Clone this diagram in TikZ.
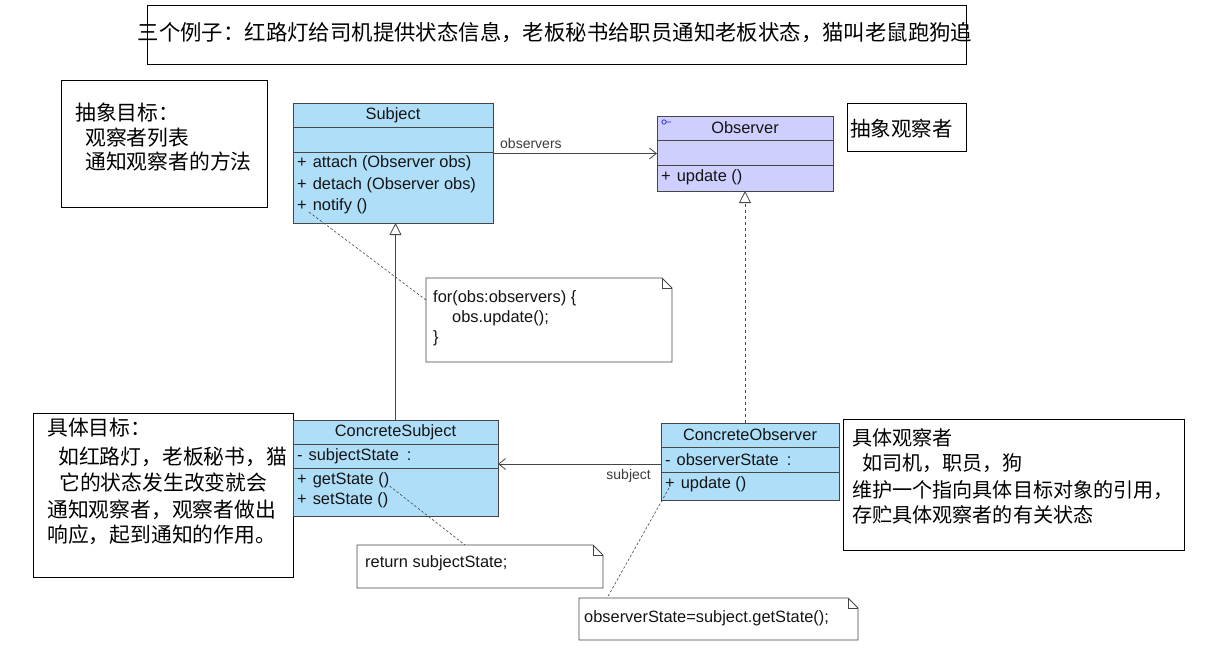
\documentclass[tikz,border=0pt]{standalone}
\usepackage{fontspec}
\setmainfont{Liberation Sans}
\newfontfamily\cjk{Noto Sans CJK SC}
\usetikzlibrary{arrows.meta,calc}
\definecolor{clsblue}{RGB}{174,222,248}
\definecolor{clspurple}{RGB}{206,206,255}
\definecolor{umlline}{RGB}{70,70,70}
\definecolor{umltext}{RGB}{20,20,20}
\definecolor{umllabel}{RGB}{60,60,60}
\definecolor{symblue}{RGB}{40,40,220}
\begin{document}
\begin{tikzpicture}[x=1pt,y=-1pt,
  textbox/.style={draw=black, line width=1pt, inner sep=0, outer sep=0},
  cls/.style={draw=umlline, line width=0.8pt, inner sep=0, outer sep=0},
  sep/.style={draw=umlline, line width=0.8pt},
  txt/.style={font=\fontsize{16.4}{19}\selectfont, text=umltext, inner sep=0, anchor=west},
  clstitle/.style={font=\fontsize{16.4}{19}\selectfont, text=umltext, inner sep=0},
  lbl/.style={font=\fontsize{14}{17}\selectfont, text=umllabel, inner sep=0},
  cn/.style={text=black, inner sep=0, anchor=west},
  cnA/.style={cn, font=\cjk\fontsize{20.8}{25}\selectfont},
  cnB/.style={cn, font=\cjk\fontsize{20.1}{25}\selectfont},
  noteshape/.style={inner sep=0, outer sep=0},
  noteline/.style={draw=umlline, line width=0.8pt, fill=white},
  notelink/.style={draw=umlline, line width=0.6pt, dash pattern=on 2.5pt off 2pt},
  gen/.style={draw=umlline, line width=0.8pt, -{Triangle[open, length=12pt, width=12pt, fill=white]}},
  real/.style={draw=umlline, line width=0.8pt, dash pattern=on 3pt off 3pt, -{Triangle[open, length=12pt, width=12pt, fill=white]}},
  assoc/.style={draw=umlline, line width=0.8pt, -{Straight Barb[length=7pt, width=11pt]}}
]
\fill[white] (0,0) rectangle (1206,669);
\useasboundingbox (0,0) rectangle (1206,669);

% ---------- top banner ----------
\node[textbox, minimum width=819pt, minimum height=58pt] (top) at (556.5,35) {};
\node[inner sep=0, font=\cjk\fontsize{21.4}{25}\selectfont] (toptext) at (555,33)
  {三个例子：红路灯给司机提供状态信息，老板秘书给职员通知老板状态，猫叫老鼠跑狗追};

% ---------- abstract target text box ----------
\node[textbox, minimum width=206pt, minimum height=127pt] (abs) at (164,143.5) {};
\node[cnA] (abs1) at (75,113) {抽象目标：};
\node[cnA] (abs2) at (85,138) {观察者列表};
\node[cnA] (abs3) at (85,162) {通知观察者的方法};

% ---------- abstract observer text box ----------
\node[textbox, minimum width=119pt, minimum height=48pt] (absobs) at (906.5,127) {};
\node[cn, font=\cjk\fontsize{20.5}{25}\selectfont] (absobs1) at (850,129) {抽象观察者};

% ---------- concrete subject text box ----------
\node[textbox, minimum width=260pt, minimum height=164pt] (cst) at (163,495) {};
\node[cnA] (cst1) at (47,428) {具体目标：};
\node[cnA] (cst2) at (58,457) {如红路灯，老板秘书，猫};
\node[cnA] (cst3) at (59,483) {它的状态发生改变就会};
\node[cnA] (cst4) at (47,510) {通知观察者，观察者做出};
\node[cnA] (cst5) at (47,535) {响应，起到通知的作用。};

% ---------- concrete observer text box ----------
\node[textbox, minimum width=341pt, minimum height=131pt] (cot) at (1013.5,484.5) {};
\node[cnB] (cot1) at (852,438) {具体观察者};
\node[cnB] (cot2) at (862,463) {如司机，职员，狗};
\node[cnB] (cot3) at (852,490) {维护一个指向具体目标对象的引用，};
\node[cnB] (cot4) at (852,515) {存贮具体观察者的有关状态};

% ---------- notes ----------
\node[noteshape, minimum width=246pt, minimum height=84pt] (n1) at (549,320) {};
\draw[noteline] (n1.north west) -- ($(n1.north east)+(-10,0)$) -- ($(n1.north east)+(0,10)$) -- (n1.south east) -- (n1.south west) -- cycle;
\draw[sep] ($(n1.north east)+(-10,0)$) -- ($(n1.north east)+(-10,10)$) -- ($(n1.north east)+(0,10)$);
\node[txt] (n1a) at (433,298) {for(obs:observers) \{};
\node[txt] (n1b) at (452,318) {obs.update();};
\node[txt] (n1c) at (433,338) {\}};

\node[noteshape, minimum width=246pt, minimum height=43pt] (n2) at (480,566.5) {};
\draw[noteline] (n2.north west) -- ($(n2.north east)+(-10,0)$) -- ($(n2.north east)+(0,10)$) -- (n2.south east) -- (n2.south west) -- cycle;
\draw[sep] ($(n2.north east)+(-10,0)$) -- ($(n2.north east)+(-10,10)$) -- ($(n2.north east)+(0,10)$);
\node[txt] (n2a) at (365,563) {return subjectState;};

\node[noteshape, minimum width=279pt, minimum height=42pt] (n3) at (718.5,619) {};
\draw[noteline] (n3.north west) -- ($(n3.north east)+(-10,0)$) -- ($(n3.north east)+(0,10)$) -- (n3.south east) -- (n3.south west) -- cycle;
\draw[sep] ($(n3.north east)+(-10,0)$) -- ($(n3.north east)+(-10,10)$) -- ($(n3.north east)+(0,10)$);
\node[txt] (n3a) at (584,618) {observerState=subject.getState();};

% ---------- Subject ----------
\node[cls, fill=clsblue, minimum width=200pt, minimum height=120pt] (s) at (393,163) {};
\draw[sep] ($(s.north west)+(0,24)$) -- ($(s.north east)+(0,24)$);
\draw[sep] ($(s.north west)+(0,49)$) -- ($(s.north east)+(0,49)$);
\node[clstitle] (st) at (393,115) {Subject};
\node[txt] (sm1) at (297,163) {+\hspace{6pt}attach (Observer obs)};
\node[txt] (sm2) at (297,185) {+\hspace{6pt}detach (Observer obs)};
\node[txt] (sm3) at (297,206) {+\hspace{6pt}notify ()};

% ---------- Observer ----------
\node[cls, fill=clspurple, minimum width=176pt, minimum height=75pt] (o) at (745,153.5) {};
\draw[sep] ($(o.north west)+(0,24)$) -- ($(o.north east)+(0,24)$);
\draw[sep] ($(o.north west)+(0,49)$) -- ($(o.north east)+(0,49)$);
\node[clstitle] (ot) at (745,128) {Observer};
\node[txt] (om1) at (661,177) {+\hspace{6pt}update ()};
\draw[symblue, line width=0.7pt] (664,122) circle (2.2) (666.2,122) -- (671,122);

% ---------- ConcreteSubject ----------
\node[cls, fill=clsblue, minimum width=205pt, minimum height=96pt] (cs) at (395.5,468) {};
\draw[sep] ($(cs.north west)+(0,24)$) -- ($(cs.north east)+(0,24)$);
\draw[sep] ($(cs.north west)+(0,48)$) -- ($(cs.north east)+(0,48)$);
\node[clstitle] (cst0) at (395.5,432) {ConcreteSubject};
\node[txt] (csa1) at (297,456) {-\hspace{6pt}subjectState\hspace{8pt}:};
\node[txt] (csm1) at (297,480) {+\hspace{6pt}getState ()};
\node[txt] (csm2) at (297,500) {+\hspace{6pt}setState ()};

% ---------- ConcreteObserver ----------
\node[cls, fill=clsblue, minimum width=178pt, minimum height=77pt] (co) at (750,461.5) {};
\draw[sep] ($(co.north west)+(0,24)$) -- ($(co.north east)+(0,24)$);
\draw[sep] ($(co.north west)+(0,49)$) -- ($(co.north east)+(0,49)$);
\node[clstitle] (cot0) at (750,435) {ConcreteObserver};
\node[txt] (coa1) at (665,460) {-\hspace{6pt}observerState\hspace{8pt}:};
\node[txt] (com1) at (665,484) {+\hspace{6pt}update ()};

% ---------- connectors ----------
\draw[assoc] (s.east |- o.center) -- (o.west);
\node[lbl, anchor=west] (obslbl) at (500,143) {observers};

\draw[gen] (cs.north) -- (cs.north |- s.south);
\draw[real] (co.north -| o.south) -- (o.south);

\draw[assoc] (co.west |- 0,464) -- (cs.east |- 0,464);
\node[lbl, anchor=east] (sublbl) at (651,476) {subject};

\draw[notelink] ($(sm3.west)+(12,6)$) -- ($(n1.north west)+(0,22)$);
\draw[notelink] ($(csm1.east)+(0,6)$) -- ($(n2.north west)+(108,0)$);
\draw[notelink] ($(com1.west)+(4,4)$) -- ($(n3.north west)+(28,0)$);
\end{tikzpicture}
\end{document}
